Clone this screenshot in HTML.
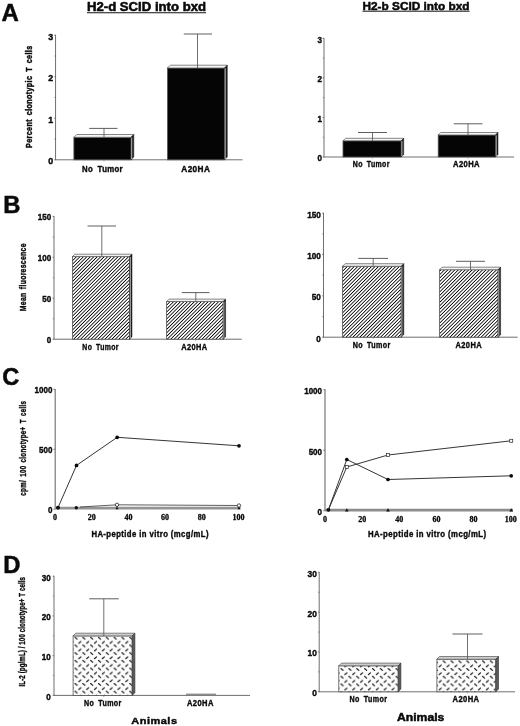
<!DOCTYPE html>
<html lang="en"><head><meta charset="utf-8"><title>Figure</title>
<style>
html,body{margin:0;padding:0;background:#fff;}
body{width:520px;height:726px;overflow:hidden;}
svg{display:block;}
</style></head><body>
<svg width="520" height="726" viewBox="0 0 520 726">
<defs>
<pattern id="hatch" width="2.45" height="2.45" patternUnits="userSpaceOnUse" patternTransform="rotate(-45)">
<rect width="2.45" height="2.45" fill="#fff"/><rect y="0" width="2.45" height="1.18" fill="#000" shape-rendering="crispEdges"/>
</pattern>
</defs>
<rect width="520" height="726" fill="#fff"/>

<text x="1.50" y="20.70" font-family="'Liberation Sans',Arial,Helvetica,sans-serif" font-size="24.0" font-weight="bold" text-anchor="start" fill="#0a0a0a" stroke="#0a0a0a" stroke-width="0.5" stroke-linejoin="round">A</text>
<text x="3.30" y="212.90" font-family="'Liberation Sans',Arial,Helvetica,sans-serif" font-size="23.8" font-weight="bold" text-anchor="start" fill="#0a0a0a" stroke="#0a0a0a" stroke-width="0.5" stroke-linejoin="round">B</text>
<text x="2.20" y="385.20" font-family="'Liberation Sans',Arial,Helvetica,sans-serif" font-size="23.7" font-weight="bold" text-anchor="start" fill="#0a0a0a" stroke="#0a0a0a" stroke-width="0.5" stroke-linejoin="round">C</text>
<text x="3.20" y="573.00" font-family="'Liberation Sans',Arial,Helvetica,sans-serif" font-size="23.8" font-weight="bold" text-anchor="start" fill="#0a0a0a" stroke="#0a0a0a" stroke-width="0.5" stroke-linejoin="round">D</text>
<text x="87.00" y="11.00" font-family="'Liberation Sans',Arial,Helvetica,sans-serif" font-size="13" font-weight="bold" text-anchor="start" fill="#0a0a0a" stroke="#0a0a0a" stroke-width="0.58" stroke-linejoin="round" textLength="119.00" lengthAdjust="spacingAndGlyphs">H2-d SCID into bxd</text>
<line x1="87.00" y1="12.70" x2="206.00" y2="12.70" stroke="#111" stroke-width="1.1"/>
<text x="362.50" y="9.60" font-family="'Liberation Sans',Arial,Helvetica,sans-serif" font-size="11.8" font-weight="bold" text-anchor="start" fill="#0a0a0a" stroke="#0a0a0a" stroke-width="0.53" stroke-linejoin="round" textLength="107.00" lengthAdjust="spacingAndGlyphs">H2-b SCID into bxd</text>
<line x1="362.50" y1="11.20" x2="469.50" y2="11.20" stroke="#111" stroke-width="1.0"/>
<line x1="55.55" y1="34.80" x2="55.55" y2="159.80" stroke="#555" stroke-width="0.85"/>
<line x1="55.15" y1="159.80" x2="242.50" y2="159.80" stroke="#555" stroke-width="0.85"/>
<line x1="54.15" y1="159.80" x2="55.55" y2="159.80" stroke="#555" stroke-width="0.7"/>
<text x="53.20" y="164.30" font-family="'Liberation Sans',Arial,Helvetica,sans-serif" font-size="9.8" font-weight="bold" text-anchor="end" fill="#0a0a0a" stroke="#0a0a0a" stroke-width="0.44" stroke-linejoin="round" textLength="4.90" lengthAdjust="spacingAndGlyphs">0</text>
<line x1="54.15" y1="118.27" x2="55.55" y2="118.27" stroke="#555" stroke-width="0.7"/>
<text x="53.20" y="122.77" font-family="'Liberation Sans',Arial,Helvetica,sans-serif" font-size="9.8" font-weight="bold" text-anchor="end" fill="#0a0a0a" stroke="#0a0a0a" stroke-width="0.44" stroke-linejoin="round" textLength="4.90" lengthAdjust="spacingAndGlyphs">1</text>
<line x1="54.15" y1="76.73" x2="55.55" y2="76.73" stroke="#555" stroke-width="0.7"/>
<text x="53.20" y="81.23" font-family="'Liberation Sans',Arial,Helvetica,sans-serif" font-size="9.8" font-weight="bold" text-anchor="end" fill="#0a0a0a" stroke="#0a0a0a" stroke-width="0.44" stroke-linejoin="round" textLength="4.90" lengthAdjust="spacingAndGlyphs">2</text>
<line x1="54.15" y1="35.20" x2="55.55" y2="35.20" stroke="#555" stroke-width="0.7"/>
<text x="53.20" y="39.70" font-family="'Liberation Sans',Arial,Helvetica,sans-serif" font-size="9.8" font-weight="bold" text-anchor="end" fill="#0a0a0a" stroke="#0a0a0a" stroke-width="0.44" stroke-linejoin="round" textLength="4.90" lengthAdjust="spacingAndGlyphs">3</text>
<line x1="54.35" y1="139.03" x2="55.55" y2="139.03" stroke="#555" stroke-width="0.6"/>
<line x1="54.35" y1="97.50" x2="55.55" y2="97.50" stroke="#555" stroke-width="0.6"/>
<line x1="54.35" y1="55.97" x2="55.55" y2="55.97" stroke="#555" stroke-width="0.6"/>
<rect x="73.90" y="137.30" width="57.10" height="22.50" fill="#050505" stroke="#555" stroke-width="0.8"/>
<polygon points="73.90,137.30 76.70,134.50 133.80,134.50 131.00,137.30" fill="#f6f6f6" stroke="#555" stroke-width="0.7"/>
<polygon points="131.00,137.30 133.80,134.50 133.80,157.00 131.00,159.80" fill="#1c1c1c" stroke="#1c1c1c" stroke-width="0.5"/>
<line x1="131.70" y1="137.60" x2="131.70" y2="159.00" stroke="#c8c8c8" stroke-width="0.9"/>
<line x1="104.00" y1="128.40" x2="104.00" y2="137.30" stroke="#555" stroke-width="0.85"/>
<line x1="89.20" y1="128.40" x2="117.50" y2="128.40" stroke="#555" stroke-width="0.95"/>
<line x1="104.00" y1="160.10" x2="104.00" y2="161.40" stroke="#888" stroke-width="0.7"/>
<rect x="167.50" y="68.00" width="57.00" height="91.80" fill="#050505" stroke="#555" stroke-width="0.8"/>
<polygon points="167.50,68.00 170.30,65.20 227.30,65.20 224.50,68.00" fill="#f6f6f6" stroke="#555" stroke-width="0.7"/>
<polygon points="224.50,68.00 227.30,65.20 227.30,157.00 224.50,159.80" fill="#1c1c1c" stroke="#1c1c1c" stroke-width="0.5"/>
<line x1="225.20" y1="68.30" x2="225.20" y2="159.00" stroke="#c8c8c8" stroke-width="0.9"/>
<line x1="197.50" y1="34.00" x2="197.50" y2="68.00" stroke="#555" stroke-width="0.85"/>
<line x1="183.80" y1="34.00" x2="212.00" y2="34.00" stroke="#555" stroke-width="0.95"/>
<line x1="197.50" y1="160.10" x2="197.50" y2="161.40" stroke="#888" stroke-width="0.7"/>
<text x="82.00" y="171.70" font-family="'Liberation Sans',Arial,Helvetica,sans-serif" font-size="9.6" font-weight="bold" text-anchor="start" fill="#0a0a0a" stroke="#0a0a0a" stroke-width="0.43" stroke-linejoin="round" textLength="41.00" lengthAdjust="spacingAndGlyphs" letter-spacing="0.45" word-spacing="2.5">No Tumor</text>
<text x="181.30" y="171.70" font-family="'Liberation Sans',Arial,Helvetica,sans-serif" font-size="9.6" font-weight="bold" text-anchor="start" fill="#0a0a0a" stroke="#0a0a0a" stroke-width="0.43" stroke-linejoin="round" textLength="29.00" lengthAdjust="spacingAndGlyphs" letter-spacing="0.45">A20HA</text>
<text x="32.00" y="147.90" font-family="'Liberation Sans',Arial,Helvetica,sans-serif" font-size="9.5" font-weight="bold" text-anchor="start" fill="#0a0a0a" stroke="#0a0a0a" stroke-width="0.43" stroke-linejoin="round" textLength="102.40" lengthAdjust="spacingAndGlyphs" letter-spacing="0.45" transform="rotate(-90 32.00 147.90)" word-spacing="2">Percent clonotypic T cells</text>
<line x1="324.00" y1="37.90" x2="324.00" y2="157.00" stroke="#555" stroke-width="0.85"/>
<line x1="323.60" y1="157.00" x2="514.00" y2="157.00" stroke="#555" stroke-width="0.85"/>
<line x1="322.60" y1="157.00" x2="324.00" y2="157.00" stroke="#555" stroke-width="0.7"/>
<text x="321.90" y="161.30" font-family="'Liberation Sans',Arial,Helvetica,sans-serif" font-size="8.7" font-weight="bold" text-anchor="end" fill="#0a0a0a" stroke="#0a0a0a" stroke-width="0.39" stroke-linejoin="round" textLength="4.50" lengthAdjust="spacingAndGlyphs">0</text>
<line x1="322.60" y1="117.43" x2="324.00" y2="117.43" stroke="#555" stroke-width="0.7"/>
<text x="321.90" y="121.73" font-family="'Liberation Sans',Arial,Helvetica,sans-serif" font-size="8.7" font-weight="bold" text-anchor="end" fill="#0a0a0a" stroke="#0a0a0a" stroke-width="0.39" stroke-linejoin="round" textLength="4.50" lengthAdjust="spacingAndGlyphs">1</text>
<line x1="322.60" y1="77.87" x2="324.00" y2="77.87" stroke="#555" stroke-width="0.7"/>
<text x="321.90" y="82.17" font-family="'Liberation Sans',Arial,Helvetica,sans-serif" font-size="8.7" font-weight="bold" text-anchor="end" fill="#0a0a0a" stroke="#0a0a0a" stroke-width="0.39" stroke-linejoin="round" textLength="4.50" lengthAdjust="spacingAndGlyphs">2</text>
<line x1="322.60" y1="38.30" x2="324.00" y2="38.30" stroke="#555" stroke-width="0.7"/>
<text x="321.90" y="42.60" font-family="'Liberation Sans',Arial,Helvetica,sans-serif" font-size="8.7" font-weight="bold" text-anchor="end" fill="#0a0a0a" stroke="#0a0a0a" stroke-width="0.39" stroke-linejoin="round" textLength="4.50" lengthAdjust="spacingAndGlyphs">3</text>
<line x1="322.80" y1="137.22" x2="324.00" y2="137.22" stroke="#555" stroke-width="0.6"/>
<line x1="322.80" y1="97.65" x2="324.00" y2="97.65" stroke="#555" stroke-width="0.6"/>
<line x1="322.80" y1="58.08" x2="324.00" y2="58.08" stroke="#555" stroke-width="0.6"/>
<rect x="343.00" y="140.80" width="58.20" height="16.20" fill="#050505" stroke="#555" stroke-width="0.8"/>
<polygon points="343.00,140.80 345.50,138.30 403.70,138.30 401.20,140.80" fill="#f6f6f6" stroke="#555" stroke-width="0.7"/>
<polygon points="401.20,140.80 403.70,138.30 403.70,154.50 401.20,157.00" fill="#1c1c1c" stroke="#1c1c1c" stroke-width="0.5"/>
<line x1="401.90" y1="141.10" x2="401.90" y2="156.20" stroke="#c8c8c8" stroke-width="0.9"/>
<line x1="372.50" y1="132.50" x2="372.50" y2="140.80" stroke="#555" stroke-width="0.85"/>
<line x1="358.00" y1="132.50" x2="387.00" y2="132.50" stroke="#555" stroke-width="0.95"/>
<line x1="372.50" y1="157.30" x2="372.50" y2="158.60" stroke="#888" stroke-width="0.7"/>
<rect x="438.20" y="135.00" width="57.30" height="22.00" fill="#050505" stroke="#555" stroke-width="0.8"/>
<polygon points="438.20,135.00 440.70,132.50 498.00,132.50 495.50,135.00" fill="#f6f6f6" stroke="#555" stroke-width="0.7"/>
<polygon points="495.50,135.00 498.00,132.50 498.00,154.50 495.50,157.00" fill="#1c1c1c" stroke="#1c1c1c" stroke-width="0.5"/>
<line x1="496.20" y1="135.30" x2="496.20" y2="156.20" stroke="#c8c8c8" stroke-width="0.9"/>
<line x1="468.00" y1="123.80" x2="468.00" y2="135.00" stroke="#555" stroke-width="0.85"/>
<line x1="453.80" y1="123.80" x2="482.50" y2="123.80" stroke="#555" stroke-width="0.95"/>
<line x1="468.00" y1="157.30" x2="468.00" y2="158.60" stroke="#888" stroke-width="0.7"/>
<text x="352.80" y="167.10" font-family="'Liberation Sans',Arial,Helvetica,sans-serif" font-size="8.2" font-weight="bold" text-anchor="start" fill="#0a0a0a" stroke="#0a0a0a" stroke-width="0.37" stroke-linejoin="round" textLength="37.00" lengthAdjust="spacingAndGlyphs" letter-spacing="0.45" word-spacing="2">No Tumor</text>
<text x="453.00" y="167.10" font-family="'Liberation Sans',Arial,Helvetica,sans-serif" font-size="8.2" font-weight="bold" text-anchor="start" fill="#0a0a0a" stroke="#0a0a0a" stroke-width="0.37" stroke-linejoin="round" textLength="27.00" lengthAdjust="spacingAndGlyphs" letter-spacing="0.45">A20HA</text>
<line x1="54.00" y1="216.00" x2="54.00" y2="339.20" stroke="#555" stroke-width="0.85"/>
<line x1="53.60" y1="339.20" x2="241.80" y2="339.20" stroke="#555" stroke-width="0.85"/>
<line x1="52.60" y1="339.20" x2="54.00" y2="339.20" stroke="#555" stroke-width="0.7"/>
<text x="51.20" y="343.20" font-family="'Liberation Sans',Arial,Helvetica,sans-serif" font-size="8.9" font-weight="bold" text-anchor="end" fill="#0a0a0a" stroke="#0a0a0a" stroke-width="0.4" stroke-linejoin="round" textLength="4.45" lengthAdjust="spacingAndGlyphs">0</text>
<line x1="52.60" y1="298.27" x2="54.00" y2="298.27" stroke="#555" stroke-width="0.7"/>
<text x="51.20" y="302.27" font-family="'Liberation Sans',Arial,Helvetica,sans-serif" font-size="8.9" font-weight="bold" text-anchor="end" fill="#0a0a0a" stroke="#0a0a0a" stroke-width="0.4" stroke-linejoin="round" textLength="8.91" lengthAdjust="spacingAndGlyphs">50</text>
<line x1="52.60" y1="257.33" x2="54.00" y2="257.33" stroke="#555" stroke-width="0.7"/>
<text x="51.20" y="261.33" font-family="'Liberation Sans',Arial,Helvetica,sans-serif" font-size="8.9" font-weight="bold" text-anchor="end" fill="#0a0a0a" stroke="#0a0a0a" stroke-width="0.4" stroke-linejoin="round" textLength="13.36" lengthAdjust="spacingAndGlyphs">100</text>
<line x1="52.60" y1="216.40" x2="54.00" y2="216.40" stroke="#555" stroke-width="0.7"/>
<text x="51.20" y="220.40" font-family="'Liberation Sans',Arial,Helvetica,sans-serif" font-size="8.9" font-weight="bold" text-anchor="end" fill="#0a0a0a" stroke="#0a0a0a" stroke-width="0.4" stroke-linejoin="round" textLength="13.36" lengthAdjust="spacingAndGlyphs">150</text>
<line x1="52.80" y1="318.73" x2="54.00" y2="318.73" stroke="#555" stroke-width="0.6"/>
<line x1="52.80" y1="277.80" x2="54.00" y2="277.80" stroke="#555" stroke-width="0.6"/>
<line x1="52.80" y1="236.87" x2="54.00" y2="236.87" stroke="#555" stroke-width="0.6"/>
<rect x="72.40" y="256.60" width="57.20" height="82.60" fill="url(#hatch)" stroke="#555" stroke-width="0.8"/>
<polygon points="72.40,256.60 74.80,254.20 132.00,254.20 129.60,256.60" fill="#f2f2f2" stroke="#555" stroke-width="0.7"/>
<polygon points="129.60,256.60 132.00,254.20 132.00,336.80 129.60,339.20" fill="#1c1c1c" stroke="#1c1c1c" stroke-width="0.5"/>
<line x1="130.30" y1="256.90" x2="130.30" y2="338.40" stroke="#c8c8c8" stroke-width="0.9"/>
<line x1="101.80" y1="226.00" x2="101.80" y2="256.60" stroke="#555" stroke-width="0.85"/>
<line x1="87.50" y1="226.00" x2="116.00" y2="226.00" stroke="#555" stroke-width="0.95"/>
<line x1="101.80" y1="339.50" x2="101.80" y2="340.80" stroke="#888" stroke-width="0.7"/>
<rect x="166.60" y="301.50" width="56.60" height="37.70" fill="url(#hatch)" stroke="#555" stroke-width="0.8"/>
<polygon points="166.60,301.50 169.00,299.10 225.60,299.10 223.20,301.50" fill="#f2f2f2" stroke="#555" stroke-width="0.7"/>
<polygon points="223.20,301.50 225.60,299.10 225.60,336.80 223.20,339.20" fill="#1c1c1c" stroke="#1c1c1c" stroke-width="0.5"/>
<line x1="223.90" y1="301.80" x2="223.90" y2="338.40" stroke="#c8c8c8" stroke-width="0.9"/>
<line x1="195.80" y1="292.60" x2="195.80" y2="301.50" stroke="#555" stroke-width="0.85"/>
<line x1="181.80" y1="292.60" x2="209.50" y2="292.60" stroke="#555" stroke-width="0.95"/>
<line x1="195.80" y1="339.50" x2="195.80" y2="340.80" stroke="#888" stroke-width="0.7"/>
<text x="82.30" y="349.90" font-family="'Liberation Sans',Arial,Helvetica,sans-serif" font-size="8.5" font-weight="bold" text-anchor="start" fill="#0a0a0a" stroke="#0a0a0a" stroke-width="0.38" stroke-linejoin="round" textLength="36.50" lengthAdjust="spacingAndGlyphs" letter-spacing="0.45" word-spacing="2">No Tumor</text>
<text x="181.20" y="349.90" font-family="'Liberation Sans',Arial,Helvetica,sans-serif" font-size="8.5" font-weight="bold" text-anchor="start" fill="#0a0a0a" stroke="#0a0a0a" stroke-width="0.38" stroke-linejoin="round" textLength="26.30" lengthAdjust="spacingAndGlyphs" letter-spacing="0.45">A20HA</text>
<text x="26.40" y="311.20" font-family="'Liberation Sans',Arial,Helvetica,sans-serif" font-size="9" font-weight="bold" text-anchor="start" fill="#0a0a0a" stroke="#0a0a0a" stroke-width="0.4" stroke-linejoin="round" textLength="68.00" lengthAdjust="spacingAndGlyphs" letter-spacing="0.45" transform="rotate(-90 26.40 311.20)" word-spacing="1.5">Mean fluorescence</text>
<line x1="323.50" y1="212.80" x2="323.50" y2="337.20" stroke="#555" stroke-width="0.85"/>
<line x1="323.10" y1="337.20" x2="517.70" y2="337.20" stroke="#555" stroke-width="0.85"/>
<line x1="322.10" y1="337.20" x2="323.50" y2="337.20" stroke="#555" stroke-width="0.7"/>
<text x="320.80" y="341.80" font-family="'Liberation Sans',Arial,Helvetica,sans-serif" font-size="8.8" font-weight="bold" text-anchor="end" fill="#0a0a0a" stroke="#0a0a0a" stroke-width="0.4" stroke-linejoin="round" textLength="4.55" lengthAdjust="spacingAndGlyphs">0</text>
<line x1="322.10" y1="295.87" x2="323.50" y2="295.87" stroke="#555" stroke-width="0.7"/>
<text x="320.80" y="300.47" font-family="'Liberation Sans',Arial,Helvetica,sans-serif" font-size="8.8" font-weight="bold" text-anchor="end" fill="#0a0a0a" stroke="#0a0a0a" stroke-width="0.4" stroke-linejoin="round" textLength="9.10" lengthAdjust="spacingAndGlyphs">50</text>
<line x1="322.10" y1="254.53" x2="323.50" y2="254.53" stroke="#555" stroke-width="0.7"/>
<text x="320.80" y="259.13" font-family="'Liberation Sans',Arial,Helvetica,sans-serif" font-size="8.8" font-weight="bold" text-anchor="end" fill="#0a0a0a" stroke="#0a0a0a" stroke-width="0.4" stroke-linejoin="round" textLength="13.65" lengthAdjust="spacingAndGlyphs">100</text>
<line x1="322.10" y1="213.20" x2="323.50" y2="213.20" stroke="#555" stroke-width="0.7"/>
<text x="320.80" y="217.80" font-family="'Liberation Sans',Arial,Helvetica,sans-serif" font-size="8.8" font-weight="bold" text-anchor="end" fill="#0a0a0a" stroke="#0a0a0a" stroke-width="0.4" stroke-linejoin="round" textLength="13.65" lengthAdjust="spacingAndGlyphs">150</text>
<line x1="322.30" y1="316.53" x2="323.50" y2="316.53" stroke="#555" stroke-width="0.6"/>
<line x1="322.30" y1="275.20" x2="323.50" y2="275.20" stroke="#555" stroke-width="0.6"/>
<line x1="322.30" y1="233.87" x2="323.50" y2="233.87" stroke="#555" stroke-width="0.6"/>
<rect x="342.50" y="266.30" width="58.70" height="70.90" fill="url(#hatch)" stroke="#555" stroke-width="0.8"/>
<polygon points="342.50,266.30 345.10,263.70 403.80,263.70 401.20,266.30" fill="#f2f2f2" stroke="#555" stroke-width="0.7"/>
<polygon points="401.20,266.30 403.80,263.70 403.80,334.60 401.20,337.20" fill="#1c1c1c" stroke="#1c1c1c" stroke-width="0.5"/>
<line x1="401.90" y1="266.60" x2="401.90" y2="336.40" stroke="#c8c8c8" stroke-width="0.9"/>
<line x1="373.20" y1="258.40" x2="373.20" y2="266.40" stroke="#555" stroke-width="0.85"/>
<line x1="358.20" y1="258.40" x2="388.00" y2="258.40" stroke="#555" stroke-width="0.95"/>
<line x1="373.20" y1="337.50" x2="373.20" y2="338.80" stroke="#888" stroke-width="0.7"/>
<rect x="439.60" y="269.70" width="58.50" height="67.50" fill="url(#hatch)" stroke="#555" stroke-width="0.8"/>
<polygon points="439.60,269.70 442.10,267.20 500.60,267.20 498.10,269.70" fill="#f2f2f2" stroke="#555" stroke-width="0.7"/>
<polygon points="498.10,269.70 500.60,267.20 500.60,334.70 498.10,337.20" fill="#1c1c1c" stroke="#1c1c1c" stroke-width="0.5"/>
<line x1="498.80" y1="270.00" x2="498.80" y2="336.40" stroke="#c8c8c8" stroke-width="0.9"/>
<line x1="470.50" y1="261.30" x2="470.50" y2="269.70" stroke="#555" stroke-width="0.85"/>
<line x1="456.00" y1="261.30" x2="485.00" y2="261.30" stroke="#555" stroke-width="0.95"/>
<line x1="470.50" y1="337.50" x2="470.50" y2="338.80" stroke="#888" stroke-width="0.7"/>
<text x="352.80" y="347.90" font-family="'Liberation Sans',Arial,Helvetica,sans-serif" font-size="8.5" font-weight="bold" text-anchor="start" fill="#0a0a0a" stroke="#0a0a0a" stroke-width="0.38" stroke-linejoin="round" textLength="37.80" lengthAdjust="spacingAndGlyphs" letter-spacing="0.45" word-spacing="2">No Tumor</text>
<text x="455.50" y="347.90" font-family="'Liberation Sans',Arial,Helvetica,sans-serif" font-size="8.5" font-weight="bold" text-anchor="start" fill="#0a0a0a" stroke="#0a0a0a" stroke-width="0.38" stroke-linejoin="round" textLength="26.50" lengthAdjust="spacingAndGlyphs" letter-spacing="0.45">A20HA</text>
<line x1="55.20" y1="388.90" x2="55.20" y2="509.20" stroke="#777" stroke-width="1.2"/>
<line x1="53.40" y1="509.20" x2="55.20" y2="509.20" stroke="#555" stroke-width="0.7"/>
<text x="52.40" y="513.30" font-family="'Liberation Sans',Arial,Helvetica,sans-serif" font-size="8.6" font-weight="bold" text-anchor="end" fill="#0a0a0a" stroke="#0a0a0a" stroke-width="0.39" stroke-linejoin="round" textLength="4.45" lengthAdjust="spacingAndGlyphs">0</text>
<line x1="53.40" y1="449.25" x2="55.20" y2="449.25" stroke="#555" stroke-width="0.7"/>
<text x="52.40" y="453.35" font-family="'Liberation Sans',Arial,Helvetica,sans-serif" font-size="8.6" font-weight="bold" text-anchor="end" fill="#0a0a0a" stroke="#0a0a0a" stroke-width="0.39" stroke-linejoin="round" textLength="13.34" lengthAdjust="spacingAndGlyphs">500</text>
<line x1="53.40" y1="389.30" x2="55.20" y2="389.30" stroke="#555" stroke-width="0.7"/>
<text x="52.40" y="393.40" font-family="'Liberation Sans',Arial,Helvetica,sans-serif" font-size="8.6" font-weight="bold" text-anchor="end" fill="#0a0a0a" stroke="#0a0a0a" stroke-width="0.39" stroke-linejoin="round" textLength="17.79" lengthAdjust="spacingAndGlyphs">1000</text>
<line x1="55.20" y1="508.10" x2="240.50" y2="508.10" stroke="#949494" stroke-width="2.6"/>
<polyline fill="none" stroke="#2a2a2a" stroke-width="0.95" points="58,507.6 76.5,465.4 117.2,437.3 239,445.8"/>
<circle cx="58" cy="507.6" r="1.85" fill="#0a0a0a"/>
<circle cx="76.5" cy="465.4" r="1.85" fill="#0a0a0a"/>
<circle cx="117.2" cy="437.3" r="1.85" fill="#0a0a0a"/>
<circle cx="239" cy="445.8" r="1.85" fill="#0a0a0a"/>
<polyline fill="none" stroke="#333" stroke-width="0.8" points="80,507.0 117,504.8 239,505.5"/>
<circle cx="117" cy="504.8" r="1.7" fill="#fff" stroke="#222" stroke-width="0.8"/>
<circle cx="239" cy="505.5" r="1.7" fill="#fff" stroke="#222" stroke-width="0.8"/>
<circle cx="58" cy="507.8" r="1.7" fill="#111"/>
<circle cx="76.3" cy="507.8" r="1.7" fill="#111"/>
<polygon points="115.5,509.2 118.5,509.2 117,506.4" fill="#111"/>
<polygon points="237.5,509.2 240.5,509.2 239,506.4" fill="#111"/>
<text x="55.00" y="519.80" font-family="'Liberation Serif','Times New Roman',serif" font-size="8.0" font-weight="bold" text-anchor="middle" fill="#0a0a0a" stroke="#0a0a0a" stroke-width="0.3" stroke-linejoin="round">0</text>
<text x="91.70" y="519.80" font-family="'Liberation Serif','Times New Roman',serif" font-size="8.0" font-weight="bold" text-anchor="middle" fill="#0a0a0a" stroke="#0a0a0a" stroke-width="0.3" stroke-linejoin="round">20</text>
<text x="128.40" y="519.80" font-family="'Liberation Serif','Times New Roman',serif" font-size="8.0" font-weight="bold" text-anchor="middle" fill="#0a0a0a" stroke="#0a0a0a" stroke-width="0.3" stroke-linejoin="round">40</text>
<text x="165.10" y="519.80" font-family="'Liberation Serif','Times New Roman',serif" font-size="8.0" font-weight="bold" text-anchor="middle" fill="#0a0a0a" stroke="#0a0a0a" stroke-width="0.3" stroke-linejoin="round">60</text>
<text x="201.80" y="519.80" font-family="'Liberation Serif','Times New Roman',serif" font-size="8.0" font-weight="bold" text-anchor="middle" fill="#0a0a0a" stroke="#0a0a0a" stroke-width="0.3" stroke-linejoin="round">80</text>
<text x="238.50" y="519.80" font-family="'Liberation Serif','Times New Roman',serif" font-size="8.0" font-weight="bold" text-anchor="middle" fill="#0a0a0a" stroke="#0a0a0a" stroke-width="0.3" stroke-linejoin="round">100</text>
<text x="91.40" y="536.90" font-family="'Liberation Sans',Arial,Helvetica,sans-serif" font-size="8.4" font-weight="bold" text-anchor="start" fill="#0a0a0a" stroke="#0a0a0a" stroke-width="0.38" stroke-linejoin="round" textLength="117.50" lengthAdjust="spacingAndGlyphs" letter-spacing="0.45">HA-peptide in vitro (mcg/mL)</text>
<text x="25.90" y="495.70" font-family="'Liberation Sans',Arial,Helvetica,sans-serif" font-size="8.4" font-weight="bold" text-anchor="start" fill="#0a0a0a" stroke="#0a0a0a" stroke-width="0.38" stroke-linejoin="round" textLength="95.00" lengthAdjust="spacingAndGlyphs" letter-spacing="0.45" transform="rotate(-90 25.90 495.70)" word-spacing="1.5">cpm/ 100 clonotype+ T cells</text>
<line x1="325.00" y1="389.30" x2="325.00" y2="510.70" stroke="#777" stroke-width="1.2"/>
<line x1="323.20" y1="510.70" x2="325.00" y2="510.70" stroke="#555" stroke-width="0.7"/>
<text x="322.00" y="515.30" font-family="'Liberation Sans',Arial,Helvetica,sans-serif" font-size="8.6" font-weight="bold" text-anchor="end" fill="#0a0a0a" stroke="#0a0a0a" stroke-width="0.39" stroke-linejoin="round" textLength="4.45" lengthAdjust="spacingAndGlyphs">0</text>
<line x1="323.20" y1="450.20" x2="325.00" y2="450.20" stroke="#555" stroke-width="0.7"/>
<text x="322.00" y="454.80" font-family="'Liberation Sans',Arial,Helvetica,sans-serif" font-size="8.6" font-weight="bold" text-anchor="end" fill="#0a0a0a" stroke="#0a0a0a" stroke-width="0.39" stroke-linejoin="round" textLength="13.34" lengthAdjust="spacingAndGlyphs">500</text>
<line x1="323.20" y1="389.70" x2="325.00" y2="389.70" stroke="#555" stroke-width="0.7"/>
<text x="322.00" y="394.30" font-family="'Liberation Sans',Arial,Helvetica,sans-serif" font-size="8.6" font-weight="bold" text-anchor="end" fill="#0a0a0a" stroke="#0a0a0a" stroke-width="0.39" stroke-linejoin="round" textLength="17.79" lengthAdjust="spacingAndGlyphs">1000</text>
<line x1="325.00" y1="510.15" x2="513.00" y2="510.15" stroke="#8c8c8c" stroke-width="2.7"/>
<polyline fill="none" stroke="#2a2a2a" stroke-width="0.95" points="328.4,509.8 346.8,459.5 388,479.5 511.2,475.8"/>
<circle cx="328.4" cy="509.8" r="1.85" fill="#0a0a0a"/>
<circle cx="346.8" cy="459.5" r="1.85" fill="#0a0a0a"/>
<circle cx="388" cy="479.5" r="1.85" fill="#0a0a0a"/>
<circle cx="511.2" cy="475.8" r="1.85" fill="#0a0a0a"/>
<polyline fill="none" stroke="#2a2a2a" stroke-width="0.95" points="328.4,509.8 346.8,467 388,455 511.2,440.8"/>
<rect x="345.3" y="465.5" width="3" height="3" fill="#fff" stroke="#333" stroke-width="0.75"/>
<rect x="386.5" y="453.5" width="3" height="3" fill="#fff" stroke="#333" stroke-width="0.75"/>
<rect x="509.7" y="439.3" width="3" height="3" fill="#fff" stroke="#333" stroke-width="0.75"/>
<polygon points="345.0,511.5 348.6,511.5 346.8,508.2" fill="#111"/>
<polygon points="386.2,511.5 389.8,511.5 388,508.2" fill="#111"/>
<polygon points="509.4,511.5 513.0,511.5 511.2,508.2" fill="#111"/>
<text x="325.00" y="521.60" font-family="'Liberation Serif','Times New Roman',serif" font-size="8.0" font-weight="bold" text-anchor="middle" fill="#0a0a0a" stroke="#0a0a0a" stroke-width="0.3" stroke-linejoin="round">0</text>
<text x="362.14" y="521.60" font-family="'Liberation Serif','Times New Roman',serif" font-size="8.0" font-weight="bold" text-anchor="middle" fill="#0a0a0a" stroke="#0a0a0a" stroke-width="0.3" stroke-linejoin="round">20</text>
<text x="399.28" y="521.60" font-family="'Liberation Serif','Times New Roman',serif" font-size="8.0" font-weight="bold" text-anchor="middle" fill="#0a0a0a" stroke="#0a0a0a" stroke-width="0.3" stroke-linejoin="round">40</text>
<text x="436.42" y="521.60" font-family="'Liberation Serif','Times New Roman',serif" font-size="8.0" font-weight="bold" text-anchor="middle" fill="#0a0a0a" stroke="#0a0a0a" stroke-width="0.3" stroke-linejoin="round">60</text>
<text x="473.56" y="521.60" font-family="'Liberation Serif','Times New Roman',serif" font-size="8.0" font-weight="bold" text-anchor="middle" fill="#0a0a0a" stroke="#0a0a0a" stroke-width="0.3" stroke-linejoin="round">80</text>
<text x="510.70" y="521.60" font-family="'Liberation Serif','Times New Roman',serif" font-size="8.0" font-weight="bold" text-anchor="middle" fill="#0a0a0a" stroke="#0a0a0a" stroke-width="0.3" stroke-linejoin="round">100</text>
<text x="368.00" y="536.50" font-family="'Liberation Sans',Arial,Helvetica,sans-serif" font-size="8.4" font-weight="bold" text-anchor="start" fill="#0a0a0a" stroke="#0a0a0a" stroke-width="0.38" stroke-linejoin="round" textLength="118.40" lengthAdjust="spacingAndGlyphs" letter-spacing="0.45">HA-peptide in vitro (mcg/mL)</text>
<line x1="54.00" y1="575.80" x2="54.00" y2="695.40" stroke="#555" stroke-width="0.85"/>
<line x1="53.60" y1="695.40" x2="250.00" y2="695.40" stroke="#555" stroke-width="0.85"/>
<line x1="52.60" y1="695.40" x2="54.00" y2="695.40" stroke="#555" stroke-width="0.7"/>
<text x="50.80" y="699.90" font-family="'Liberation Sans',Arial,Helvetica,sans-serif" font-size="8.8" font-weight="bold" text-anchor="end" fill="#0a0a0a" stroke="#0a0a0a" stroke-width="0.4" stroke-linejoin="round" textLength="4.50" lengthAdjust="spacingAndGlyphs">0</text>
<line x1="52.60" y1="655.67" x2="54.00" y2="655.67" stroke="#555" stroke-width="0.7"/>
<text x="50.80" y="660.17" font-family="'Liberation Sans',Arial,Helvetica,sans-serif" font-size="8.8" font-weight="bold" text-anchor="end" fill="#0a0a0a" stroke="#0a0a0a" stroke-width="0.4" stroke-linejoin="round" textLength="9.00" lengthAdjust="spacingAndGlyphs">10</text>
<line x1="52.60" y1="615.93" x2="54.00" y2="615.93" stroke="#555" stroke-width="0.7"/>
<text x="50.80" y="620.43" font-family="'Liberation Sans',Arial,Helvetica,sans-serif" font-size="8.8" font-weight="bold" text-anchor="end" fill="#0a0a0a" stroke="#0a0a0a" stroke-width="0.4" stroke-linejoin="round" textLength="9.00" lengthAdjust="spacingAndGlyphs">20</text>
<line x1="52.60" y1="576.20" x2="54.00" y2="576.20" stroke="#555" stroke-width="0.7"/>
<text x="50.80" y="580.70" font-family="'Liberation Sans',Arial,Helvetica,sans-serif" font-size="8.8" font-weight="bold" text-anchor="end" fill="#0a0a0a" stroke="#0a0a0a" stroke-width="0.4" stroke-linejoin="round" textLength="9.00" lengthAdjust="spacingAndGlyphs">30</text>
<line x1="52.80" y1="675.53" x2="54.00" y2="675.53" stroke="#555" stroke-width="0.6"/>
<line x1="52.80" y1="635.80" x2="54.00" y2="635.80" stroke="#555" stroke-width="0.6"/>
<line x1="52.80" y1="596.07" x2="54.00" y2="596.07" stroke="#555" stroke-width="0.6"/>
<defs><pattern id="dp1" width="7.82" height="7.7" patternUnits="userSpaceOnUse" patternTransform="translate(74.50,636.80)"><rect width="7.82" height="7.7" fill="#fcfcfc"/><line x1="0.55" y1="0.5" x2="2.6" y2="2.25" stroke="#0c0c0c" stroke-width="1.15" stroke-linecap="round"/><line x1="4.35" y1="6.45" x2="6.4" y2="4.7" stroke="#0c0c0c" stroke-width="1.15" stroke-linecap="round"/></pattern></defs>
<rect x="73.10" y="635.90" width="59.10" height="59.50" fill="url(#dp1)" stroke="#555" stroke-width="0.8"/>
<polygon points="73.10,635.90 75.80,633.20 134.90,633.20 132.20,635.90" fill="#cfcfcf" stroke="#555" stroke-width="0.7"/>
<polygon points="132.20,635.90 134.90,633.20 134.90,692.70 132.20,695.40" fill="#5a5a5a" stroke="#333" stroke-width="0.6"/>
<line x1="103.80" y1="598.80" x2="103.80" y2="636.00" stroke="#555" stroke-width="0.85"/>
<line x1="89.20" y1="598.80" x2="118.80" y2="598.80" stroke="#555" stroke-width="0.95"/>
<line x1="103.80" y1="695.70" x2="103.80" y2="697.00" stroke="#888" stroke-width="0.7"/>
<line x1="186.00" y1="694.20" x2="216.00" y2="694.20" stroke="#666" stroke-width="1.0"/>
<text x="84.00" y="705.90" font-family="'Liberation Sans',Arial,Helvetica,sans-serif" font-size="8.3" font-weight="bold" text-anchor="start" fill="#0a0a0a" stroke="#0a0a0a" stroke-width="0.37" stroke-linejoin="round" textLength="37.70" lengthAdjust="spacingAndGlyphs" letter-spacing="0.45" word-spacing="2">No Tumor</text>
<text x="187.00" y="705.90" font-family="'Liberation Sans',Arial,Helvetica,sans-serif" font-size="8.3" font-weight="bold" text-anchor="start" fill="#0a0a0a" stroke="#0a0a0a" stroke-width="0.37" stroke-linejoin="round" textLength="26.80" lengthAdjust="spacingAndGlyphs" letter-spacing="0.45">A20HA</text>
<text x="24.50" y="686.50" font-family="'Liberation Sans',Arial,Helvetica,sans-serif" font-size="8.2" font-weight="bold" text-anchor="start" fill="#0a0a0a" stroke="#0a0a0a" stroke-width="0.37" stroke-linejoin="round" textLength="109.60" lengthAdjust="spacingAndGlyphs" letter-spacing="0.12" transform="rotate(-90 24.50 686.50)">IL-2 (pg/mL) / 100 clonotype+ T cells</text>
<text x="131.30" y="723.50" font-family="'Liberation Sans',Arial,Helvetica,sans-serif" font-size="9.8" font-weight="bold" text-anchor="start" fill="#0a0a0a" stroke="#0a0a0a" stroke-width="0.44" stroke-linejoin="round" textLength="46.20" lengthAdjust="spacingAndGlyphs" letter-spacing="0.45">Animals</text>
<line x1="319.20" y1="571.90" x2="319.20" y2="691.80" stroke="#555" stroke-width="0.85"/>
<line x1="318.80" y1="691.80" x2="515.00" y2="691.80" stroke="#555" stroke-width="0.85"/>
<line x1="317.80" y1="691.80" x2="319.20" y2="691.80" stroke="#555" stroke-width="0.7"/>
<text x="316.80" y="696.30" font-family="'Liberation Sans',Arial,Helvetica,sans-serif" font-size="9.0" font-weight="bold" text-anchor="end" fill="#0a0a0a" stroke="#0a0a0a" stroke-width="0.4" stroke-linejoin="round" textLength="4.65" lengthAdjust="spacingAndGlyphs">0</text>
<line x1="317.80" y1="651.97" x2="319.20" y2="651.97" stroke="#555" stroke-width="0.7"/>
<text x="316.80" y="656.47" font-family="'Liberation Sans',Arial,Helvetica,sans-serif" font-size="9.0" font-weight="bold" text-anchor="end" fill="#0a0a0a" stroke="#0a0a0a" stroke-width="0.4" stroke-linejoin="round" textLength="9.31" lengthAdjust="spacingAndGlyphs">10</text>
<line x1="317.80" y1="612.13" x2="319.20" y2="612.13" stroke="#555" stroke-width="0.7"/>
<text x="316.80" y="616.63" font-family="'Liberation Sans',Arial,Helvetica,sans-serif" font-size="9.0" font-weight="bold" text-anchor="end" fill="#0a0a0a" stroke="#0a0a0a" stroke-width="0.4" stroke-linejoin="round" textLength="9.31" lengthAdjust="spacingAndGlyphs">20</text>
<line x1="317.80" y1="572.30" x2="319.20" y2="572.30" stroke="#555" stroke-width="0.7"/>
<text x="316.80" y="576.80" font-family="'Liberation Sans',Arial,Helvetica,sans-serif" font-size="9.0" font-weight="bold" text-anchor="end" fill="#0a0a0a" stroke="#0a0a0a" stroke-width="0.4" stroke-linejoin="round" textLength="9.31" lengthAdjust="spacingAndGlyphs">30</text>
<line x1="318.00" y1="671.88" x2="319.20" y2="671.88" stroke="#555" stroke-width="0.6"/>
<line x1="318.00" y1="632.05" x2="319.20" y2="632.05" stroke="#555" stroke-width="0.6"/>
<line x1="318.00" y1="592.22" x2="319.20" y2="592.22" stroke="#555" stroke-width="0.6"/>
<defs><pattern id="dp2" width="7.86" height="7.7" patternUnits="userSpaceOnUse" patternTransform="translate(340.50,668.10)"><rect width="7.86" height="7.7" fill="#fcfcfc"/><line x1="0.55" y1="0.5" x2="2.6" y2="2.25" stroke="#0c0c0c" stroke-width="1.15" stroke-linecap="round"/><line x1="4.35" y1="6.45" x2="6.4" y2="4.7" stroke="#0c0c0c" stroke-width="1.15" stroke-linecap="round"/></pattern></defs>
<rect x="338.80" y="665.80" width="59.40" height="26.00" fill="url(#dp2)" stroke="#555" stroke-width="0.8"/>
<polygon points="338.80,665.80 341.50,663.10 400.90,663.10 398.20,665.80" fill="#cfcfcf" stroke="#555" stroke-width="0.7"/>
<polygon points="398.20,665.80 400.90,663.10 400.90,689.10 398.20,691.80" fill="#5a5a5a" stroke="#333" stroke-width="0.6"/>
<defs><pattern id="dp3" width="7.86" height="7.7" patternUnits="userSpaceOnUse" patternTransform="translate(340.50,668.10)"><rect width="7.86" height="7.7" fill="#fcfcfc"/><line x1="0.55" y1="0.5" x2="2.6" y2="2.25" stroke="#0c0c0c" stroke-width="1.15" stroke-linecap="round"/><line x1="4.35" y1="6.45" x2="6.4" y2="4.7" stroke="#0c0c0c" stroke-width="1.15" stroke-linecap="round"/></pattern></defs>
<rect x="436.90" y="659.20" width="58.90" height="32.60" fill="url(#dp3)" stroke="#555" stroke-width="0.8"/>
<polygon points="436.90,659.20 439.60,656.50 498.50,656.50 495.80,659.20" fill="#cfcfcf" stroke="#555" stroke-width="0.7"/>
<polygon points="495.80,659.20 498.50,656.50 498.50,689.10 495.80,691.80" fill="#5a5a5a" stroke="#333" stroke-width="0.6"/>
<line x1="467.50" y1="634.00" x2="467.50" y2="659.20" stroke="#555" stroke-width="0.85"/>
<line x1="452.50" y1="634.00" x2="482.50" y2="634.00" stroke="#555" stroke-width="0.95"/>
<line x1="467.50" y1="692.10" x2="467.50" y2="693.40" stroke="#888" stroke-width="0.7"/>
<text x="349.50" y="701.90" font-family="'Liberation Sans',Arial,Helvetica,sans-serif" font-size="8.2" font-weight="bold" text-anchor="start" fill="#0a0a0a" stroke="#0a0a0a" stroke-width="0.37" stroke-linejoin="round" textLength="37.80" lengthAdjust="spacingAndGlyphs" letter-spacing="0.45" word-spacing="2">No Tumor</text>
<text x="452.50" y="701.90" font-family="'Liberation Sans',Arial,Helvetica,sans-serif" font-size="8.2" font-weight="bold" text-anchor="start" fill="#0a0a0a" stroke="#0a0a0a" stroke-width="0.37" stroke-linejoin="round" textLength="27.00" lengthAdjust="spacingAndGlyphs" letter-spacing="0.45">A20HA</text>
<text x="397.00" y="720.50" font-family="'Liberation Sans',Arial,Helvetica,sans-serif" font-size="10.8" font-weight="bold" text-anchor="start" fill="#0a0a0a" stroke="#0a0a0a" stroke-width="0.49" stroke-linejoin="round" textLength="47.40" lengthAdjust="spacingAndGlyphs">Animals</text>
</svg>
</body></html>
